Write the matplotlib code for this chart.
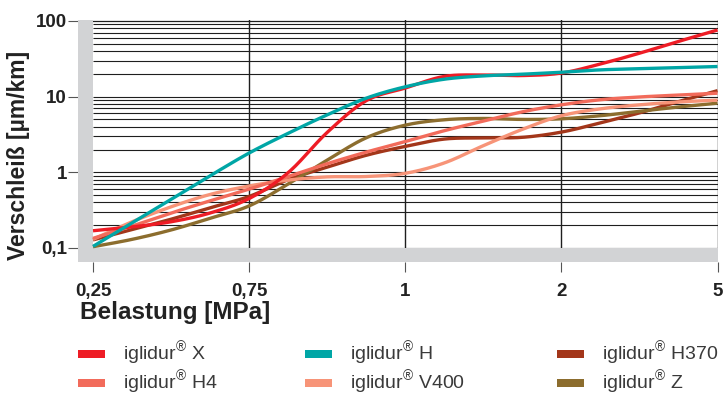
import numpy as np
import matplotlib
matplotlib.use("Agg")
import matplotlib.pyplot as plt
from matplotlib.patches import Rectangle

plt.rcParams["font.family"] = ["Liberation Sans", "DejaVu Sans"]
plt.rcParams["mathtext.fontset"] = "custom"
plt.rcParams["mathtext.rm"] = "Liberation Sans"

# ── Data ──────────────────────────────────────────────────────────────────────
X_LABELS = ["0,25", "0,75", "1", "2", "5"]
# sample positions between the category ticks (tick index units)
X_POS = [0, 0.25, 0.5, 0.75, 1, 1.25, 1.5, 1.75, 2,
         2.25, 2.5, 2.75, 3, 3.25, 3.5, 3.75, 4]

wear_x    = [0.169, 0.19, 0.222, 0.29, 0.45, 0.99, 3.37, 8.85, 13.0,
             18.5, 19.3, 19.0, 20.5, 27.0, 37.5, 53.7, 76.0]
wear_h    = [0.105, 0.215, 0.44, 0.9, 1.8, 3.28, 5.75, 9.55, 13.5,
             17.0, 18.8, 19.8, 21.0, 22.6, 23.4, 24.2, 25.0]
wear_h370 = [0.128, 0.175, 0.24, 0.34, 0.48, 0.80, 1.17, 1.68, 2.2,
             2.75, 2.85, 2.9, 3.4, 4.5, 6.1, 8.6, 12.0]
wear_h4   = [0.134, 0.195, 0.29, 0.42, 0.6, 0.88, 1.30, 1.85, 2.55,
             3.55, 4.75, 6.3, 7.8, 9.1, 9.9, 10.5, 11.1]
wear_v400 = [0.13, 0.222, 0.35, 0.51, 0.66, 0.79, 0.87, 0.88, 0.97,
             1.33, 2.25, 3.7, 5.6, 6.9, 7.8, 8.5, 9.0]
wear_z    = [0.104, 0.13, 0.173, 0.247, 0.36, 0.70, 1.45, 2.86, 4.2,
             4.95, 5.15, 5.0, 5.1, 5.6, 6.4, 7.3, 8.2]

NAMES  = ["X", "H4", "H", "V400", "H370", "Z"]
SERIES = {"X": wear_x, "H4": wear_h4, "H": wear_h,
          "V400": wear_v400, "H370": wear_h370, "Z": wear_z}
COLORS = {"X": "#ee1c25", "H4": "#f26b5b", "H": "#00a6a6",
          "V400": "#f79478", "H370": "#a3361a", "Z": "#8c6d2e"}
DRAW_ORDER = ["H370", "Z", "V400", "H4", "X", "H"]


def smooth(xs, ys, n=16):
    """Catmull-Rom through the points, in log space for y."""
    xs = np.asarray(xs, float)
    ly = np.log10(ys)
    px = np.concatenate([[2 * xs[0] - xs[1]], xs, [2 * xs[-1] - xs[-2]]])
    py = np.concatenate([[2 * ly[0] - ly[1]], ly, [2 * ly[-1] - ly[-2]]])
    t = np.linspace(0, 1, n, endpoint=False)
    out_x, out_y = [], []
    for i in range(1, len(px) - 2):
        for p, o in ((px, out_x), (py, out_y)):
            p0, p1, p2, p3 = p[i - 1], p[i], p[i + 1], p[i + 2]
            o.extend(0.5 * (2 * p1 + (-p0 + p2) * t
                            + (2 * p0 - 5 * p1 + 4 * p2 - p3) * t ** 2
                            + (-p0 + 3 * p1 - 3 * p2 + p3) * t ** 3))
    out_x.append(xs[-1])
    out_y.append(ly[-1])
    return np.array(out_x), 10 ** np.array(out_y)


# ── Figure ────────────────────────────────────────────────────────────────────
W, H = 724, 396
fig = plt.figure(figsize=(W / 100, H / 100), dpi=100)
ax = fig.add_axes([78 / W, 1 - 262 / H, 640 / W, 242 / H])

GRAY = "#d2d3d5"
GRID = "#1e1e1e"
ax.set_yscale("log")
ax.set_xlim(-15 / 156, 4.003)
ax.set_ylim(0.0653, 103)

# horizontal grid: every 1..9 x decade
for dec in [0.1, 1, 10]:
    for m in range(1, 10):
        ax.plot([0, 4], [dec * m] * 2, color=GRID, lw=0.8, zorder=1,
                solid_capstyle="butt")
ax.plot([0, 4], [100, 100], color=GRID, lw=0.9, zorder=1)
for xv in [1, 2, 3, 4]:
    ax.axvline(xv, color=GRID, lw=1.0, zorder=1)

# gray bands at left and bottom
ax.axvspan(-1, 0, color=GRAY, lw=0, zorder=2)
ax.axhspan(0.01, 0.1, color=GRAY, lw=0, zorder=2)

for name in DRAW_ORDER:
    sx, sy = smooth(X_POS, SERIES[name])
    ax.plot(sx, sy, color=COLORS[name], lw=2.4, zorder=3,
            solid_capstyle="butt")

for s in ax.spines.values():
    s.set_visible(False)

ax.set_xticks(range(len(X_LABELS)))
ax.set_xticklabels(X_LABELS, fontsize=13.5, fontweight="bold", color="#222222")
ax.set_yticks([0.1, 1, 10, 100])
ax.set_yticklabels(["0,1", "1", "10", "100"], fontsize=13.5,
                   fontweight="bold", color="#222222")
ax.minorticks_off()
ax.tick_params(axis="x", length=7, width=0.8, color="#555555", pad=8)
ax.tick_params(axis="y", length=7, width=0.8, color="#555555", pad=1)

fig.text(80 / W, 1 - 313 / H, "Belastung [MPa]", fontsize=17.5,
         fontweight="bold", color="#222222", ha="left", va="center")
fig.text(19 / W, 1 - 155 / H, "Verschleiß [µm/km]", fontsize=16.5,
         fontweight="bold", color="#222222", rotation=90,
         ha="center", va="center")

# ── Legend (3 columns x 2 rows) ──────────────────────────────────────────────
col_x = [78, 305, 557]
row_y = [354, 383]
for k, name in enumerate(NAMES):
    c, r = divmod(k, 2)
    x0, y0 = col_x[c], row_y[r]
    fig.add_artist(Rectangle((x0 / W, 1 - (y0 + 4) / H), 27 / W, 8 / H,
                             transform=fig.transFigure,
                             color=COLORS[name], lw=0))
    fig.text((x0 + 45) / W, 1 - y0 / H,
             r"iglidur$^{\mathrm{®}}$ " + name, fontsize=14,
             color="#3a3a3a", ha="left", va="center")

fig.savefig("out.png", dpi=100)
